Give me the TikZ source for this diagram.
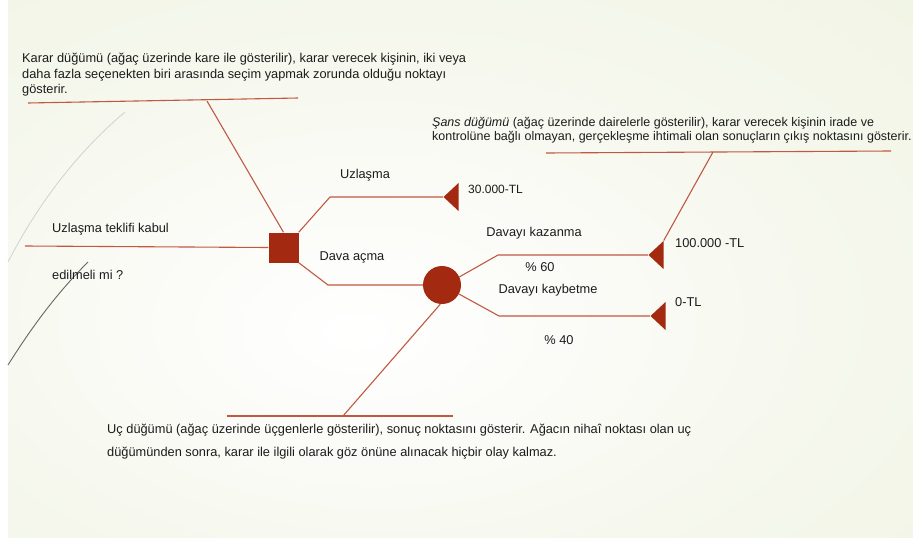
\documentclass[tikz,border=0pt]{standalone}
\usepackage{fontspec}
\setmainfont{Liberation Sans}
\usetikzlibrary{shapes.geometric}
\definecolor{nodered}{RGB}{163,42,16}
\definecolor{linered}{RGB}{192,88,66}
\definecolor{txtgray}{RGB}{28,28,28}
\definecolor{bggreen}{RGB}{230,236,210}
\definecolor{bgmid}{RGB}{246,248,238}
\pgfdeclareradialshading{slidebg}{\pgfpoint{-6bp}{-6bp}}{color(0bp)=(white); color(24bp)=(bgmid); color(75bp)=(bggreen)}
\tikzset{
  decision/.style={rectangle, fill=nodered, minimum size=30pt, inner sep=0},
  chance/.style={circle, fill=nodered, minimum size=38pt, inner sep=0},
  endnode/.style={isosceles triangle, isosceles triangle stretches, shape border rotate=180,
    fill=nodered, minimum width=28pt, minimum height=15pt, inner sep=0},
  branch/.style={draw=linered, line width=1.1pt},
  lbl/.style={font=\fontsize{12.8}{14}\selectfont, text=txtgray, inner sep=0},
  note/.style={lbl, align=left, anchor=north west}
}
\begin{document}
\begin{tikzpicture}[x=1pt, y=-1pt]
\useasboundingbox (0,0) rectangle (913,538);
\fill[white] (0,0) rectangle (913,538);
\shade[shading=slidebg] (8,0) rectangle (913,538);
\draw[black!18, line width=0.8pt] (8,262) .. controls (40,200) and (80,150) .. (125,112);
\draw[black!60, line width=0.9pt] (8,365) .. controls (30,330) and (55,295) .. (88,262);

% nodes of the tree
\node[decision] (dec) at (283.5,247.5) {};
\node[chance] (chance) at (442,285) {};
\node[endnode, anchor=apex] (tUz) at (443,197) {};
\node[endnode, anchor=apex] (tWin) at (648,255) {};
\node[endnode, anchor=apex] (tLose) at (650,316) {};

\coordinate (qStart) at (25,246);
\draw[branch] (qStart) -- (dec.west);
\draw[branch] (dec.north east) -- (330,0 |- tUz.apex) -- (tUz.apex);
\draw[branch] (dec.south east) -- (328,0 |- chance.west) -- (chance.west);
\draw[branch] (chance.25) -- (498,0 |- tWin.apex) -- (tWin.apex);
\draw[branch] (chance.-28) -- (499,0 |- tLose.apex) -- (tLose.apex);

% callouts
\coordinate (kA) at (28,103);
\coordinate (kB) at (298,98);
\coordinate (kC) at (207,101);
\draw[branch] (kA) -- (kB);
\draw[branch] (kC) -- (dec.north);
\coordinate (sA) at (546,153);
\coordinate (sB) at (891,151);
\coordinate (sC) at (713,152);
\draw[branch] (sA) -- (sB);
\draw[branch] (sC) -- (tWin.right corner);
\coordinate (uA) at (227,416);
\coordinate (uB) at (453,416);
\coordinate (uC) at (343,416);
\draw[branch] (uA) -- (uB);
\draw[branch] (chance.-95) -- (uC);

% texts
\node[note, font=\fontsize{12.8}{15.5}\selectfont] (kararTxt) at (22,53)
  {Karar düğümü (ağaç üzerinde kare ile gösterilir), karar verecek kişinin, iki veya\\
   daha fazla seçenekten biri arasında seçim yapmak zorunda olduğu noktayı\\gösterir.};
\node[note, font=\fontsize{12.5}{14}\selectfont] (sansTxt) at (432,117)
  {\textit{Şans düğümü} (ağaç üzerinde dairelerle gösterilir), karar verecek kişinin irade ve\\
   kontrolüne bağlı olmayan, gerçekleşme ihtimali olan sonuçların çıkış noktasını gösterir.};
\node[note, font=\fontsize{12.8}{23}\selectfont] (ucTxt) at (107,424)
  {Uç düğümü (ağaç üzerinde üçgenlerle gösterilir), sonuç noktasını gösterir. Ağacın nihaî noktası olan uç\\
   düğümünden sonra, karar ile ilgili olarak göz önüne alınacak hiçbir olay kalmaz.};

\node[lbl, anchor=west] (q1) at (52,229) {Uzlaşma teklifi kabul};
\node[lbl, anchor=west] (q2) at (52,275) {edilmeli mi ?};
\node[lbl] (lUz) at (365,175) {Uzlaşma};
\node[lbl] (lDava) at (352,257) {Dava açma};
\node[lbl, anchor=west, font=\fontsize{12}{14}\selectfont] (v1) at (468,189) {30.000-TL};
\node[lbl] (lWin) at (534,233) {Davayı kazanma};
\node[lbl] (p60) at (540,267) {\% 60};
\node[lbl] (lLose) at (548,290) {Davayı kaybetme};
\node[lbl] (p40) at (559,340) {\% 40};
\node[lbl, anchor=west] (v2) at (675,243) {100.000 -TL};
\node[lbl, anchor=west] (v3) at (675,302) {0-TL};
\end{tikzpicture}
\end{document}
